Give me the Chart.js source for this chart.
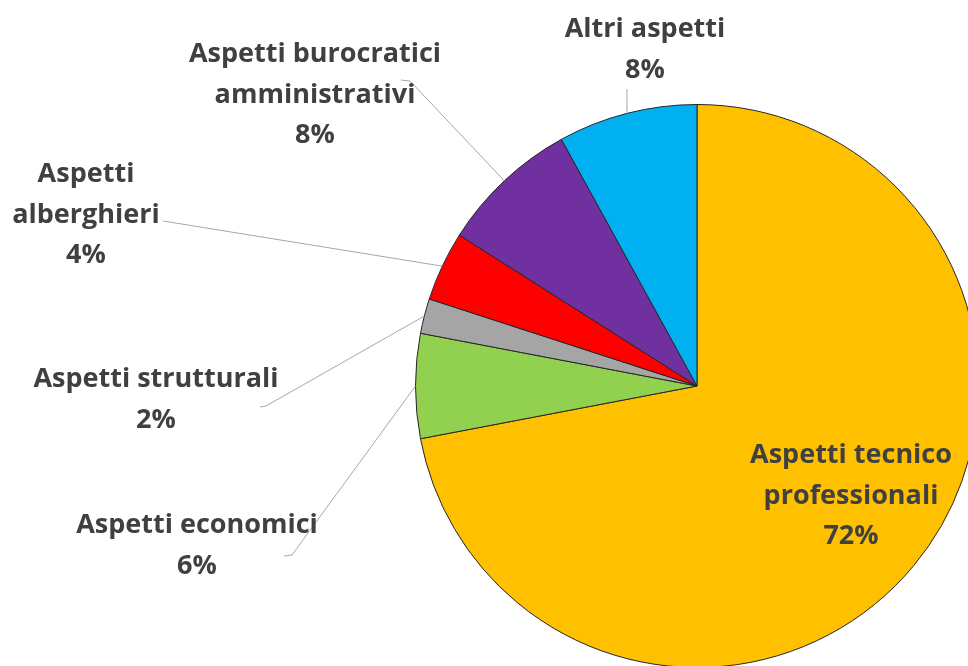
<!DOCTYPE html>
<html lang="it">

<head>
  <meta charset="UTF-8" />
  <title>Aspetti</title>
  <style>
    html,
    body {
      margin: 0;
      padding: 0;
      background: #ffffff;
      overflow: hidden;
    }

    .wrap {
      position: absolute;
      left: 0;
      top: 0;
      width: 1000px;
      height: 700px;
    }
  </style>
</head>

<body>
  <div class="wrap">
    <canvas id="myChart" width="1000" height="700"></canvas>
  </div>
  <script src="https://cdn.jsdelivr.net/npm/chart.js@4.4.1/dist/chart.umd.min.js"></script>
  <script>
    // data (clockwise from 12 o'clock)
    const categories = [
      "Aspetti tecnico professionali",
      "Aspetti economici",
      "Aspetti strutturali",
      "Aspetti alberghieri",
      "Aspetti burocratici amministrativi",
      "Altri aspetti"
    ];
    const percentages = [72, 6, 2, 4, 8, 8];

    const sliceColors = ["#FFC000", "#92D050", "#A5A5A5", "#FF0000", "#7030A0", "#00B0F0"];

    // label placement: text centre x, first baseline y, wrap width, leader line points
    const labelLayout = [
      { x: 851, y: 463, wrap: 240, leader: null },
      { x: 197, y: 533, wrap: 330, leader: [[284, 556], [292, 555]] },
      { x: 156, y: 387, wrap: 330, leader: [[260, 407], [266, 406]] },
      { x: 86, y: 182, wrap: 170, leader: [[163, 221]] },
      { x: 315, y: 62, wrap: 300, leader: [[401, 80], [410, 81]] },
      { x: 645, y: 37, wrap: 230, leader: [[627, 89]] }
    ];

    const FONT = "bold 27px 'Open Sans'";
    const LINE_H = 40.5;

    function wrapText(ctx, text, maxW) {
      const words = text.split(" ");
      const lines = [];
      let cur = "";
      for (const w of words) {
        const test = cur ? cur + " " + w : w;
        if (cur && ctx.measureText(test).width > maxW) {
          lines.push(cur);
          cur = w;
        } else {
          cur = test;
        }
      }
      if (cur) lines.push(cur);
      return lines;
    }

    const labelPlugin = {
      id: "pieLabels",
      afterDatasetsDraw(chart) {
        const ctx = chart.ctx;
        const meta = chart.getDatasetMeta(0);
        ctx.save();
        // leader lines
        ctx.strokeStyle = "#A6A6A6";
        ctx.lineWidth = 1;
        meta.data.forEach((arc, i) => {
          const lay = labelLayout[i];
          if (!lay.leader) return;
          const p = arc.getProps(["x", "y", "startAngle", "endAngle", "outerRadius"], true);
          const mid = (p.startAngle + p.endAngle) / 2;
          const ex = p.x + Math.cos(mid) * p.outerRadius;
          const ey = p.y + Math.sin(mid) * p.outerRadius;
          ctx.beginPath();
          ctx.moveTo(lay.leader[0][0], lay.leader[0][1]);
          for (let k = 1; k < lay.leader.length; k++) {
            ctx.lineTo(lay.leader[k][0], lay.leader[k][1]);
          }
          ctx.lineTo(ex, ey);
          ctx.stroke();
        });
        // texts
        ctx.font = FONT;
        ctx.fillStyle = "#404040";
        ctx.textAlign = "center";
        ctx.textBaseline = "alphabetic";
        categories.forEach((name, i) => {
          const lay = labelLayout[i];
          const lines = wrapText(ctx, name, lay.wrap);
          lines.push(percentages[i] + "%");
          lines.forEach((ln, k) => {
            ctx.fillText(ln, lay.x, lay.y + k * LINE_H);
          });
        });
        ctx.restore();
      }
    };

    var ctx = document.getElementById("myChart").getContext("2d");
    var myChart = new Chart(ctx, {
      type: "pie",
      data: {
        labels: categories,
        datasets: [
          {
            data: percentages,
            backgroundColor: sliceColors,
            borderColor: "#262626",
            borderWidth: 1,
            hoverOffset: 0
          }
        ]
      },
      options: {
        responsive: false,
        animation: false,
        layout: {
          padding: { left: 415, top: 104, right: 21, bottom: 32 }
        },
        plugins: {
          legend: { display: false },
          tooltip: { enabled: false }
        }
      },
      plugins: [labelPlugin]
    });
  </script>
</body>

</html>
